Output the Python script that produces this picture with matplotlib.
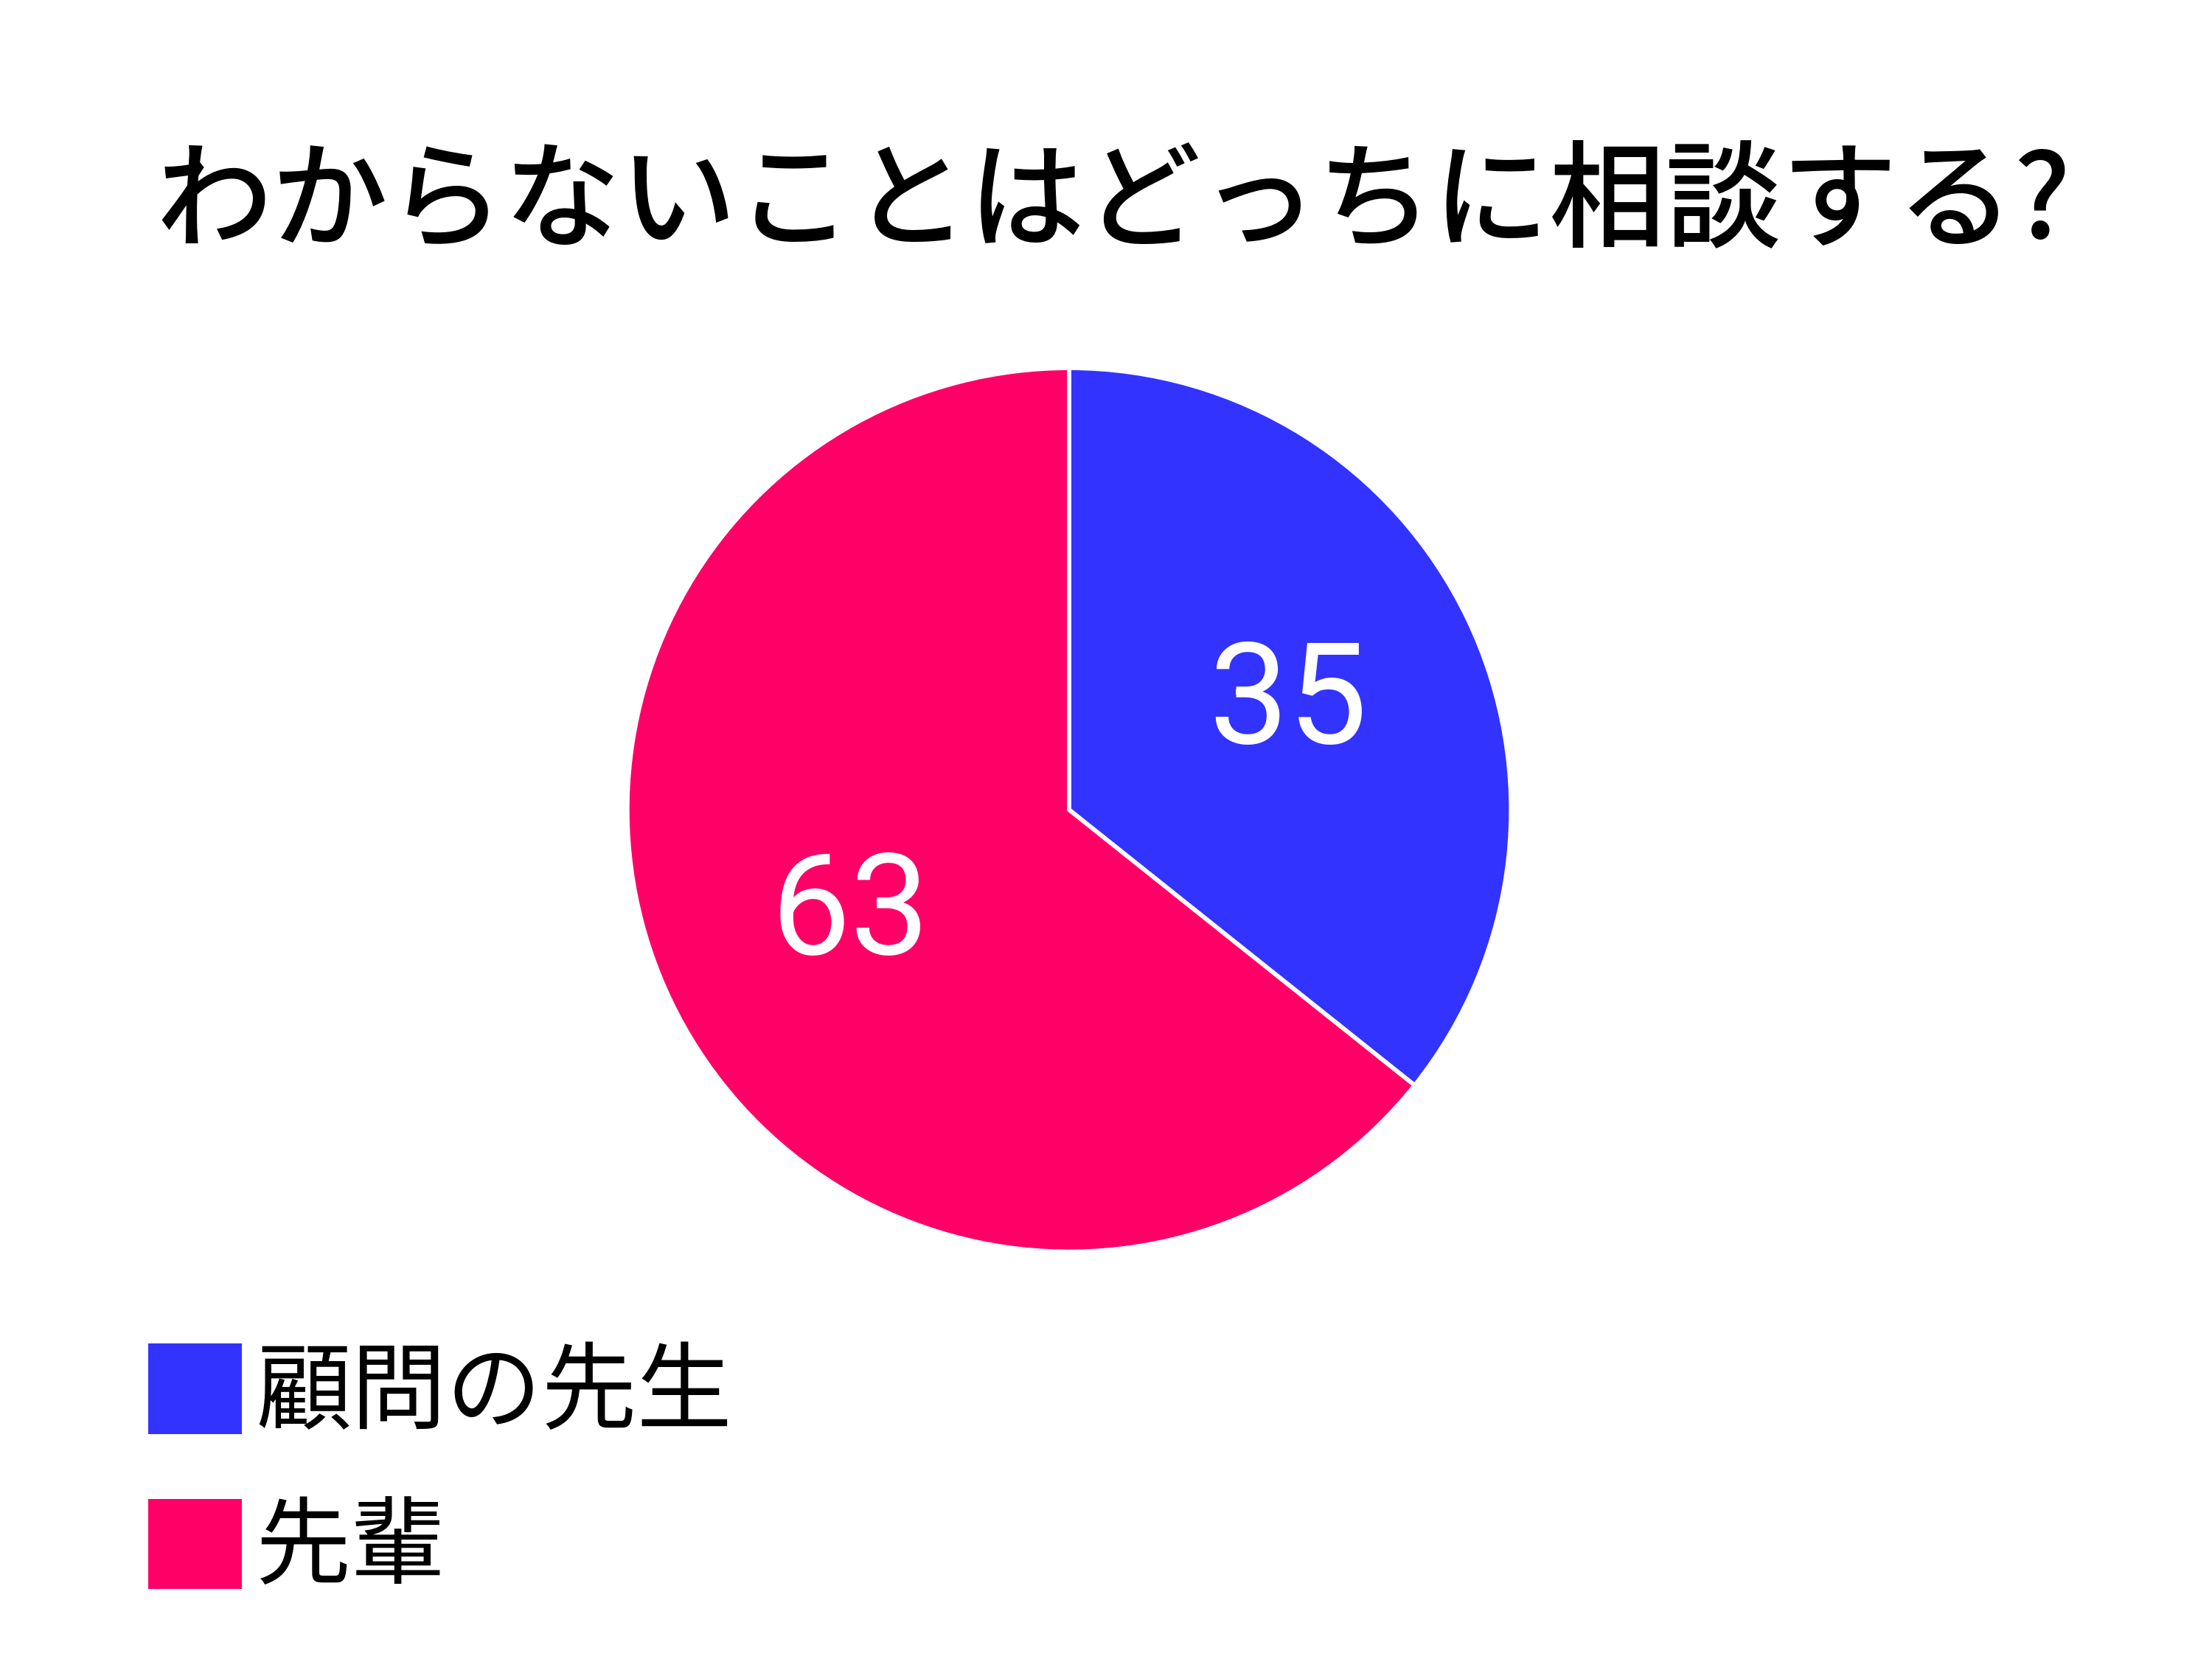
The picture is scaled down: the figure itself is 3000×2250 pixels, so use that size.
import matplotlib
matplotlib.use("Agg")
import matplotlib.pyplot as plt
from matplotlib.patches import Rectangle

plt.rcParams['font.family'] = ['Noto Sans CJK JP', 'DejaVu Sans']

title = "わからないことはどっちに相談する?"
categories = ["顧問の先生", "先輩"]
values = [35, 63]
colors = ["#3333FF", "#FF0066"]

fig = plt.figure(figsize=(10, 7.5), dpi=300)
fig.patch.set_facecolor("white")

ax = fig.add_axes([0.2836, 0.2455, 0.3995, 0.5327])
wedges, texts, autotexts = ax.pie(
    values, colors=colors, startangle=90, counterclock=False,
    radius=1.0, wedgeprops=dict(edgecolor="white", linewidth=1.4),
    autopct=lambda p: f"{round(p * sum(values) / 100):d}",
    pctdistance=0.55,
    textprops=dict(color="white", fontsize=46, family=["Roboto", "DejaVu Sans"]))
ax.set_xlim(-1, 1)
ax.set_ylim(-1, 1)
ax.set_aspect("equal")
ax.axis("off")

fig.text(0.5035, 0.877, title, ha="center", va="center", fontsize=37.8,
         fontweight="medium", color="black")

handles = [Rectangle((0, 0), 1, 1, facecolor=c, edgecolor="none") for c in colors]
fig.legend(handles, categories, loc="upper left", bbox_to_anchor=(0.067, 0.190),
           frameon=False, fontsize=31, handlelength=0.98, handleheight=1.08,
           handletextpad=0.15, labelspacing=0.58, borderpad=0, borderaxespad=0)

fig.savefig("out.png", dpi=300, facecolor="white")
